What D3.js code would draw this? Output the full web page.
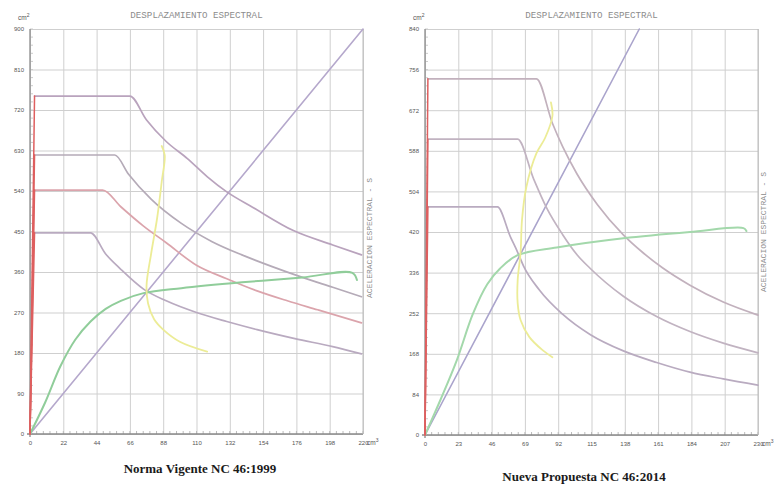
<!DOCTYPE html>
<html><head><meta charset="utf-8">
<script src="https://cdn.jsdelivr.net/npm/d3@7"></script>
<style>body{margin:0;background:#fff}</style>
</head><body><svg id="c" width="775" height="487"></svg>
<script>
const titleText = "DESPLAZAMIENTO ESPECTRAL";
const sideText = "ACELERACION ESPECTRAL - S";
const captionLeft = "Norma Vigente NC 46:1999";
const captionRight = "Nueva Propuesta NC 46:2014";

const xTicksL = [0,22,44,66,88,110,132,154,176,198,220];
const yTicksL = [0,90,180,270,360,450,540,630,720,810,900];
const xTicksR = [0,23,46,69,92,115,138,161,184,207,230];
const yTicksR = [0,84,168,252,336,420,504,588,672,756,840];

// Left panel (NC 46:1999)
const demandL1 = [[0,0],[3,751],[66,751],[77,698],[90,650],[104,612],[117,572],[130,538],[147,504],[174,452],[200,420],[219,398]];
const demandL2 = [[0,0],[3,620],[56,620],[65,578],[80,522],[100,468],[120,428],[140,398],[160,372],[180,348],[200,326],[219,305]];
const demandL3 = [[0,0],[3,542],[48,542],[60,505],[75,462],[90,425],[110,375],[130,345],[150,318],[170,296],[190,276],[219,247]];
const demandL4 = [[0,0],[3,447],[40,447],[50,400],[60,366],[75,322],[90,296],[110,270],[130,250],[150,232],[175,212],[200,194],[219,178]];
const diagL = [[0,0],[220,900]];
const capacityL = [[0,0],[10,70],[20,150],[30,210],[40,250],[50,278],[60,296],[75,313],[100,324],[140,337],[180,348],[213,358],[216,342]];
const yellowL = [[87,640],[89,620],[87,560],[84,480],[80,400],[77,330],[78,290],[82,255],[88,232],[99,205],[117,183]];

// Right panel (NC 46:2014)
const demandR1 = [[0,0],[2,737],[77,737],[88,645],[95,597],[105,540],[119,477],[137,414],[151,376],[164,346],[183,310],[206,275],[230,248]];
const demandR2 = [[0,0],[2,612],[64,612],[75,530],[84,470],[95,415],[105,373],[114,345],[137,287],[160,245],[183,214],[206,190],[230,170]];
const demandR3 = [[0,0],[2,472],[50,472],[59,410],[64,378],[68,350],[79,300],[95,250],[114,208],[137,174],[160,150],[183,130],[206,116],[230,103]];
const diagR = [[0,0],[148,840]];
const capacityR = [[0,0],[11,75],[22,155],[33,250],[43,312],[52,345],[64,372],[91,388],[137,407],[183,420],[220,428],[222,422]];
const yellowR = [[87,688],[88,660],[83,615],[77,583],[70,513],[67,445],[66,377],[64,320],[64,273],[66,238],[72,203],[81,176],[88,161]];

const svg = d3.select("#c");
svg.append("rect").attr("width",775).attr("height",487).attr("fill","#fff");

function panel(cfg){
  const g = svg.append("g");
  const x = d3.scaleLinear().domain([cfg.xTicks[0], cfg.xTicks[cfg.xTicks.length-1]]).range([cfg.x0, cfg.x1]);
  const y = d3.scaleLinear().domain([cfg.yTicks[0], cfg.yTicks[cfg.yTicks.length-1]]).range([cfg.y0, cfg.y1]);
  // grid
  g.append("g").attr("transform",`translate(0,${cfg.y0})`)
    .call(d3.axisBottom(x).tickValues(cfg.xTicks).tickSize(-(cfg.y0-cfg.y1)).tickFormat(""))
    .call(s=>{s.select(".domain").remove(); s.selectAll("line").attr("stroke","#cfcfcf");});
  g.append("g").attr("transform",`translate(${cfg.x0},0)`)
    .call(d3.axisLeft(y).tickValues(cfg.yTicks).tickSize(-(cfg.x1-cfg.x0)).tickFormat(""))
    .call(s=>{s.select(".domain").remove(); s.selectAll("line").attr("stroke","#cfcfcf");});
  // minor ticks
  const xs = x.domain(), ys = y.domain();
  const xm = d3.range(0, 51).map(i=>xs[0]+(xs[1]-xs[0])*i/50);
  const ym = d3.range(0, 51).map(i=>ys[0]+(ys[1]-ys[0])*i/50);
  g.append("g").selectAll("line").data(xm).join("line")
    .attr("x1",d=>x(d)).attr("x2",d=>x(d)).attr("y1",cfg.y0).attr("y2",cfg.y0-3).attr("stroke","#bbb");
  g.append("g").selectAll("line").data(ym).join("line")
    .attr("y1",d=>y(d)).attr("y2",d=>y(d)).attr("x1",cfg.x0).attr("x2",cfg.x0+3).attr("stroke","#ccc");
  // axis lines
  g.append("line").attr("x1",cfg.x0).attr("x2",cfg.x0).attr("y1",cfg.y1).attr("y2",cfg.y0+3).attr("stroke","#8a8a8a").attr("stroke-width",1.3);
  g.append("line").attr("x1",cfg.x0-3).attr("x2",cfg.x1).attr("y1",cfg.y0).attr("y2",cfg.y0).attr("stroke","#8a8a8a").attr("stroke-width",1.3);
  g.append("line").attr("x1",cfg.x1).attr("x2",cfg.x1).attr("y1",cfg.y1).attr("y2",cfg.y0).attr("stroke","#bdbdbd");
  // tick labels
  g.append("g").attr("transform",`translate(0,${cfg.y0+4})`)
    .call(d3.axisBottom(x).tickValues(cfg.xTicks).tickSize(0).tickPadding(3))
    .call(s=>{s.select(".domain").remove(); s.selectAll("text").attr("font-family","Liberation Sans, Arial").attr("font-size",6).attr("fill","#555");});
  g.append("g").attr("transform",`translate(${cfg.x0-6},0)`)
    .call(d3.axisLeft(y).tickValues(cfg.yTicks).tickSize(0).tickPadding(0))
    .call(s=>{s.select(".domain").remove(); s.selectAll("text").attr("font-family","Liberation Sans, Arial").attr("font-size",6).attr("fill","#555");});
  // units
  const uy = g.append("text").attr("x",cfg.x0-12).attr("y",cfg.y1-9).attr("font-family","Liberation Sans, Arial").attr("font-size",6.5).attr("fill","#555").text("cm");
  uy.append("tspan").attr("dy",-3).attr("font-size",5).text("2");
  const ux = g.append("text").attr("x",cfg.x1+4).attr("y",cfg.y0+11).attr("font-family","Liberation Sans, Arial").attr("font-size",6.5).attr("fill","#555").text("cm");
  ux.append("tspan").attr("dy",-3).attr("font-size",5).text("3");
  // title
  g.append("text").attr("x",(cfg.x0+cfg.x1)/2).attr("y",cfg.y1-11).attr("text-anchor","middle")
    .attr("font-family","Liberation Mono, DejaVu Sans Mono, monospace").attr("font-size",9.2).attr("fill","#8c8c8c").text(titleText);
  // side label
  g.append("text").attr("transform",`translate(${cfg.sideX},${cfg.sideY}) rotate(-90)`).attr("text-anchor","middle")
    .attr("font-family","Liberation Mono, DejaVu Sans Mono, monospace").attr("font-size",8).attr("fill","#8c8c8c").text(sideText);
  // caption
  g.append("text").attr("x",cfg.capX).attr("y",cfg.capY).attr("text-anchor","middle")
    .attr("font-family","Liberation Serif, Times New Roman, serif").attr("font-weight","bold").attr("font-size",13).attr("fill","#1a1a1a").text(cfg.caption);

  const lineM = d3.line().x(d=>x(d[0])).y(d=>y(d[1])).curve(d3.curveMonotoneX);
  const lineL = d3.line().x(d=>x(d[0])).y(d=>y(d[1]));
  const lineC = d3.line().x(d=>x(d[0])).y(d=>y(d[1])).curve(d3.curveCatmullRom.alpha(0.5));
  const cg = g.append("g").attr("fill","none").attr("stroke-linejoin","round").attr("stroke-linecap","round");
  cg.append("path").attr("d",lineL(cfg.diag)).attr("stroke",cfg.diagColor).attr("stroke-width",1.6);
  cfg.demands.forEach((dm,i)=>{
    cg.append("path").attr("d",lineM(dm.slice(1))).attr("stroke",cfg.demandColors[i]).attr("stroke-width",1.7);
  });
  cg.append("path").attr("d",lineC(cfg.capacity)).attr("stroke",cfg.greenColor).attr("stroke-width",2);
  cg.append("path").attr("d",lineC(cfg.yellow)).attr("stroke","#ecec96").attr("stroke-width",1.8);
  cfg.demands.forEach(dm=>{
    cg.append("path").attr("d",lineL(dm.slice(0,2))).attr("stroke","#de5f5f").attr("stroke-width",1.5);
  });
}

panel({xTicks:xTicksL,yTicks:yTicksL,x0:30,x1:363,y0:434,y1:29,
  demands:[demandL1,demandL2,demandL3,demandL4],
  demandColors:["#b9a3bd","#b5abb8","#dba4ac","#b9aac0"],
  diag:diagL,diagColor:"#b5a8cc",capacity:capacityL,greenColor:"#90cd9a",yellow:yellowL,
  sideX:372,sideY:238,caption:captionLeft,capX:200,capY:473});
panel({xTicks:xTicksR,yTicks:yTicksR,x0:425,x1:758,y0:435,y1:29,
  demands:[demandR1,demandR2,demandR3],
  demandColors:["#c2b1bd","#c1b3c1","#b9abc0"],
  diag:diagR,diagColor:"#aaa4cc",capacity:capacityR,greenColor:"#a3d8ab",yellow:yellowR,
  sideX:766,sideY:232,caption:captionRight,capX:584,capY:481});
</script></body></html>
